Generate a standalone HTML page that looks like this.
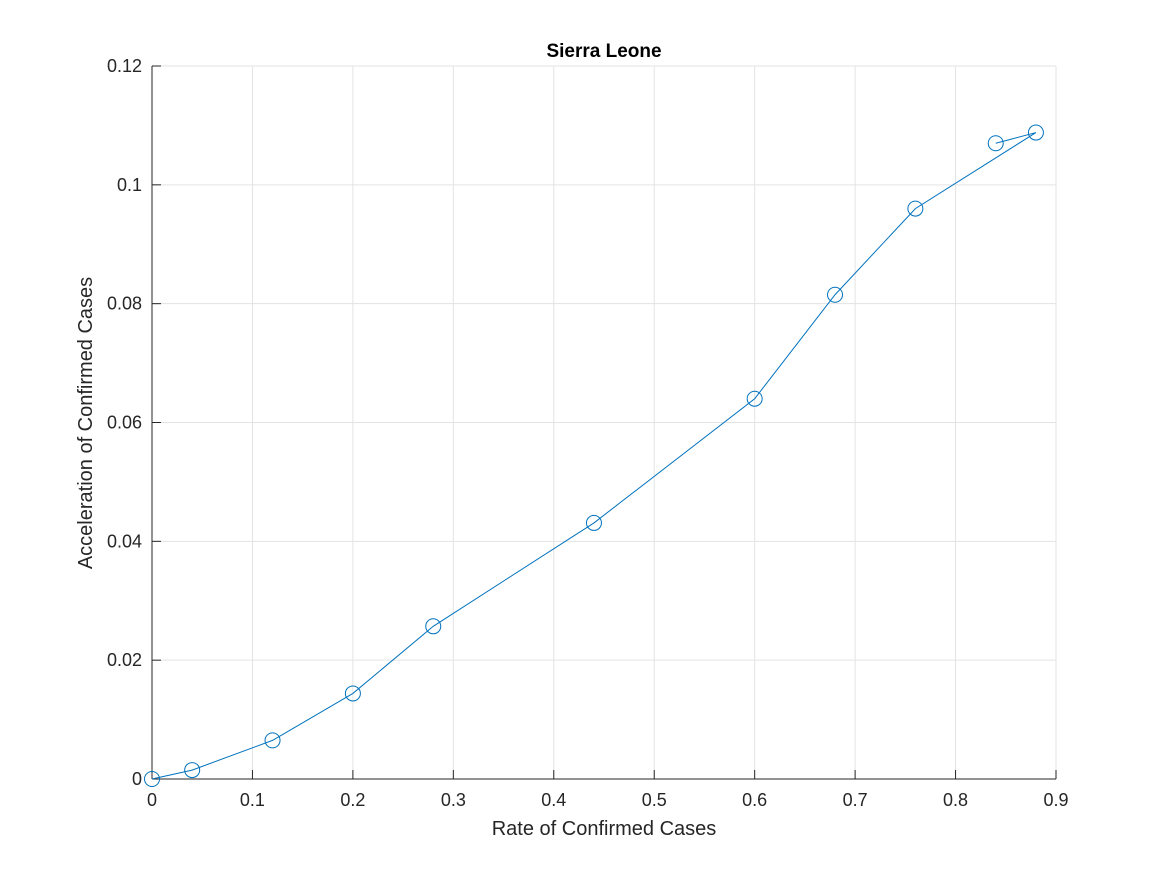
<!DOCTYPE html>
<html><head><meta charset="utf-8"><style>
body{margin:0;background:#fff;}
svg text{font-family:"Liberation Sans",Arial,sans-serif;fill:#262626;}
</style></head><body>
<svg id="chart" width="1167" height="875" xmlns="http://www.w3.org/2000/svg">
<rect width="1167" height="875" fill="#fff"/>
<g id="grid"></g>
<g id="axes"></g>
<g id="series"></g>
<text x="604" y="57" text-anchor="middle" font-size="19" font-weight="bold" style="fill:#000">Sierra Leone</text>
<text x="604" y="835" text-anchor="middle" font-size="20">Rate of Confirmed Cases</text>
<text transform="translate(92,423) rotate(-90)" text-anchor="middle" font-size="20">Acceleration of Confirmed Cases</text>
</svg>
<script>
const xValues=[0,0.04,0.12,0.2,0.28,0.44,0.6,0.68,0.76,0.88,0.84];
const yValues=[0,0.0015,0.0065,0.0144,0.0257,0.0431,0.064,0.0815,0.096,0.1088,0.107];
const xTicks=[0,0.1,0.2,0.3,0.4,0.5,0.6,0.7,0.8,0.9];
const yTicks=[0,0.02,0.04,0.06,0.08,0.1,0.12];
const xTickLabels=["0","0.1","0.2","0.3","0.4","0.5","0.6","0.7","0.8","0.9"];
const yTickLabels=["0","0.02","0.04","0.06","0.08","0.1","0.12"];
const L=152,R=1056,T=66,B=779,xMax=0.9,yMax=0.12;
const X=v=>L+v/xMax*(R-L), Y=v=>B-v/yMax*(B-T);
const NS="http://www.w3.org/2000/svg";
function mk(p,tag,a){const e=document.createElementNS(NS,tag);for(const k in a)e.setAttribute(k,a[k]);p.appendChild(e);return e;}
const grid=document.getElementById('grid'),axes=document.getElementById('axes'),series=document.getElementById('series');
xTicks.forEach((t,i)=>{
 const g=mk(grid,'line',{x1:X(t),x2:X(t),y1:T,y2:B,stroke:'#e3e3e3','stroke-width':1});
 
 
 mk(axes,'line',{x1:X(t),x2:X(t),y1:B,y2:B-9,stroke:'#262626'});
 const tx=mk(axes,'text',{x:X(t),y:B+27,'text-anchor':'middle','font-size':18});
 tx.textContent=xTickLabels[i];
 
 
});
yTicks.forEach((t,i)=>{
 const g=mk(grid,'line',{x1:L,x2:R,y1:Y(t),y2:Y(t),stroke:'#e3e3e3','stroke-width':1});
 
 
 mk(axes,'line',{x1:L,x2:L+9,y1:Y(t),y2:Y(t),stroke:'#262626'});
 const tx=mk(axes,'text',{x:L-10,y:Y(t)+6,'text-anchor':'end','font-size':18});
 tx.textContent=yTickLabels[i];
 
 
});
mk(axes,'line',{x1:L,x2:R,y1:B,y2:B,stroke:'#262626'});
mk(axes,'line',{x1:L,x2:L,y1:T,y2:B,stroke:'#262626'});
const pl=mk(series,'polyline',{points:xValues.map((x,i)=>X(x)+','+Y(yValues[i])).join(' '),fill:'none',stroke:'#0072bd','stroke-width':1});


xValues.forEach((x,i)=>{
 const c=mk(series,'circle',{cx:X(x),cy:Y(yValues[i]),r:7.5,fill:'none',stroke:'#0072bd','stroke-width':1});
 
 
});
</script>
</body></html>
